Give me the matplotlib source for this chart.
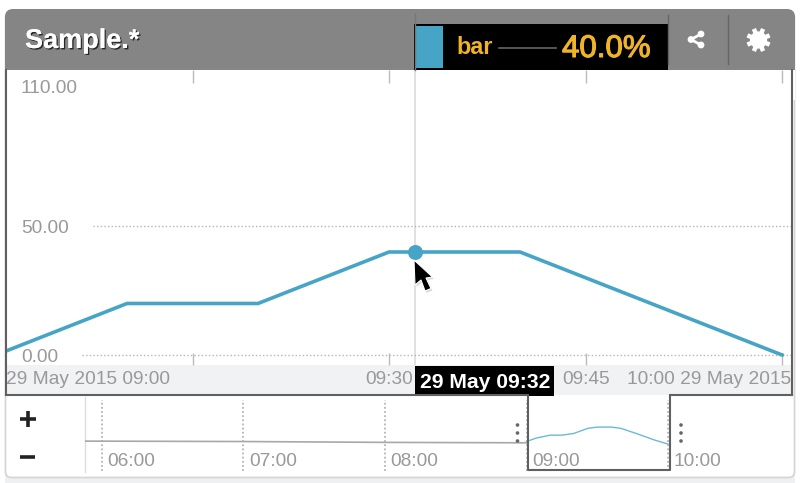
import matplotlib
matplotlib.use("Agg")
import matplotlib.pyplot as plt
import matplotlib.patheffects as pe
import numpy as np
from matplotlib.patches import FancyBboxPatch, Rectangle, Polygon, Circle

plt.rcParams['font.family'] = ['Liberation Sans', 'DejaVu Sans']

TITLE = "Sample.*"
SERIES = "bar"
READOUT = "40.0%"
minutes = [0, 10, 20, 30, 40, 60]
values = [0, 20, 20, 40, 40, 0]
y_ticks = [0, 50, 110]
y_labels = ["0.00", "50.00", "110.00"]
x_ticks = [15, 30, 45, 60]
hover_minute = 32
hover_value = 40
hover_label = "29 May 09:32"
ov_ticks = [-180, -120, -60, 0, 60]
ov_labels = ["06:00", "07:00", "08:00", "09:00", "10:00"]
ov_grey_min = [-187, -120, -60, 0]
ov_grey_val = [8, 7, 5, 4]
ov_blue_min = [0, 4, 10, 15, 20, 26, 30, 36, 40, 47, 54, 60]
ov_blue_val = [7, 15, 22, 22, 26, 38, 41, 41, 38, 25, 11, 1]

BLUE = "#46a5c6"
GOLD = "#f0b429"
HEAD = "#858585"
TXT = "#999999"
DARK = "#606060"
W, H = 800, 483
FS = 13.8

fig = plt.figure(figsize=(W / 100, H / 100), dpi=100, facecolor="white")

def px_axes(l, t, r, b, z):
    return fig.add_axes([l / W, 1 - b / H, (r - l) / W, (b - t) / H], zorder=z)

bg = px_axes(0, 0, W, H, 0)
bg.set_xlim(0, W); bg.set_ylim(H, 0); bg.axis("off")
top = px_axes(0, 0, W, H, 5)
top.set_xlim(0, W); top.set_ylim(H, 0); top.axis("off"); top.patch.set_alpha(0)

# panel
bg.add_patch(Rectangle((5, 470), 790, 13, fc="#eef0f2", ec="none"))
bg.add_patch(FancyBboxPatch((5.5, 12), 789, 465.5, boxstyle="round,pad=0,rounding_size=6",
                            fc="white", ec="#d4d4d4", lw=1.2))
bg.add_patch(FancyBboxPatch((5, 9), 790, 80, boxstyle="round,pad=0,rounding_size=8",
                            fc=HEAD, ec="none"))
bg.add_patch(Rectangle((5, 70), 790, 30, fc="white", ec="none", zorder=2))
bg.add_patch(Rectangle((6, 365), 786, 30, fc="#f1f2f4", ec="none", zorder=2))

# main chart
X0, X1 = 0.76, 60.76
ax = px_axes(6, 70, 792, 365, 2)
ax.patch.set_alpha(0)
ax.set_xlim(X0, X1)
ax.set_ylim(-3.9, 110.7)
for s in ax.spines.values():
    s.set_visible(False)
ax.set_xticks(x_ticks)
ax.tick_params(axis="x", direction="in", length=9, width=1, color="#bbbbbb",
               top=True, bottom=True, labelbottom=False)
ax.set_yticks([])
for v, start_px in zip(y_ticks[:2], [76, 87]):
    ax.plot([X0 + start_px / 13.1, X1], [v, v], color="#b5b5b5", lw=1, ls=(0, (1, 1.6)), zorder=1)
ax.plot(minutes, values, color=BLUE, lw=2.6, solid_joinstyle="miter", zorder=3)
ax.plot([hover_minute], [hover_value], "o", color=BLUE, ms=10.8, mec="none", zorder=4)
ax.axvline(hover_minute, color="#dcdcdc", lw=1.2, zorder=0)

# y labels
for v, l, dy in zip(y_ticks, y_labels, [-3, -2, -17]):
    ax.annotate(l, xy=(0, v), xycoords=("axes fraction", "data"), xytext=(15, dy),
                textcoords="offset pixels", fontsize=FS, color=TXT, va="center", ha="left",
                annotation_clip=False)

# chart frame
top.plot([6, 6], [70, 395], color=DARK, lw=1.5)
top.plot([792, 792], [70, 395], color=DARK, lw=1.5)
top.plot([6, 528], [395, 395], color=DARK, lw=1.5)
top.plot([670, 792], [395, 395], color=DARK, lw=1.5)

# axis labels in strip
top.text(6, 380, "29 May 2015 09:00", fontsize=FS, color=TXT, ha="left", va="center")
top.text(389, 380, "09:30", fontsize=FS, color=TXT, ha="center", va="center")
top.text(586, 380, "09:45", fontsize=FS, color=TXT, ha="center", va="center")
top.text(791.5, 380, "10:00 29 May 2015", fontsize=FS, color=TXT, ha="right", va="center")

# crosshair above chart + date label
top.plot([415, 415], [13, 70], color="#777777", lw=1)
top.add_patch(Rectangle((415, 366), 139, 30, fc="black", ec="none"))
top.text(485, 382, hover_label, fontsize=15.2, color="white", fontweight="bold", ha="center", va="center")

# header
top.text(25, 41, TITLE, fontsize=19.5, color="white", fontweight="bold", ha="left", va="center",
         path_effects=[pe.withSimplePatchShadow(offset=(1, -1), shadow_rgbFace="black", alpha=0.7), pe.Normal()])
top.add_patch(Rectangle((414, 24), 254, 46, fc="black", ec="none"))
top.add_patch(Rectangle((416, 26), 27, 42, fc=BLUE, ec="none"))
top.text(456, 47, SERIES, fontsize=16.8, color=GOLD, fontweight="bold", ha="left", va="center")
top.plot([499, 556], [48, 48], color="#666666", lw=1.2)
top.text(562, 49, READOUT, fontsize=22.5, color=GOLD, ha="left", va="center",
         path_effects=[pe.withStroke(linewidth=0.8, foreground=GOLD)])
top.plot([668, 668], [15, 64], color="#666666", lw=1)
top.plot([728, 728], [15, 64], color="#666666", lw=1)
# share icon
top.plot([701, 691, 701], [34, 39.5, 45], color="white", lw=2)
for cx, cy, r in [(701, 34, 3.4), (691, 39.5, 3.4), (701, 45, 3.4)]:
    top.add_patch(Circle((cx, cy), r, fc="white", ec="none"))
# gear icon
gx, gy = 758.5, 40
for a in np.arange(8) * np.pi / 4 + np.pi / 8:
    top.plot([gx, gx + 12 * np.cos(a)], [gy, gy + 12 * np.sin(a)], color="white", lw=3.2,
             solid_capstyle="butt")
top.add_patch(Circle((gx, gy), 8.6, fc="white", ec="none"))
top.add_patch(Circle((gx, gy), 3.8, fc=HEAD, ec="none"))

# overview
ov = px_axes(85, 397, 792, 472, 1)
ov.patch.set_alpha(0)
ov.set_xlim(-187.1, 112.5)
ov.set_ylim(-64.7, 111.8)
ov.axis("off")
for t in ov_ticks:
    ov.plot([t, t], [-62, 105], color="#b5b5b5", lw=1.3, ls=(0, (1, 1.3)))
ov.plot(ov_grey_min, ov_grey_val, color="#a8a8a8", lw=1.2)
ov.plot(ov_blue_min, ov_blue_val, color="#6db9d4", lw=1)
for t, l in zip(ov_ticks, ov_labels):
    ov.annotate(l, xy=(t, 0), xycoords=("data", "axes fraction"), xytext=(5.5, 11),
                textcoords="offset pixels", fontsize=FS, color=TXT, ha="left", va="center",
                annotation_clip=False)
bg.plot([85, 85], [397, 472], color="#dddddd", lw=1)
top.plot([528, 528, 670, 670], [396, 470, 470, 396], color=DARK, lw=1.5)
for x in (517.5, 681):
    for y in (425, 433, 441):
        top.add_patch(Circle((x, y), 1.8, fc="#666666", ec="none"))
top.plot([20, 36], [418.5, 418.5], color="#222222", lw=2.6, solid_capstyle="butt")
top.plot([28, 28], [411, 427], color="#222222", lw=2.6, solid_capstyle="butt")
top.plot([20, 35], [456.5, 456.5], color="#222222", lw=2.6, solid_capstyle="butt")

# cursor
cur = [(414, 260), (415, 285), (421, 280), (425, 291), (431, 288.5), (426, 278), (432.5, 277)]
top.add_patch(Polygon([(x + 1.5, y + 2) for x, y in cur], fc="#999999", ec="none", alpha=0.35))
top.add_patch(Polygon(cur, fc="black", ec="white", lw=0.8))

fig.savefig("out.png", dpi=100)
